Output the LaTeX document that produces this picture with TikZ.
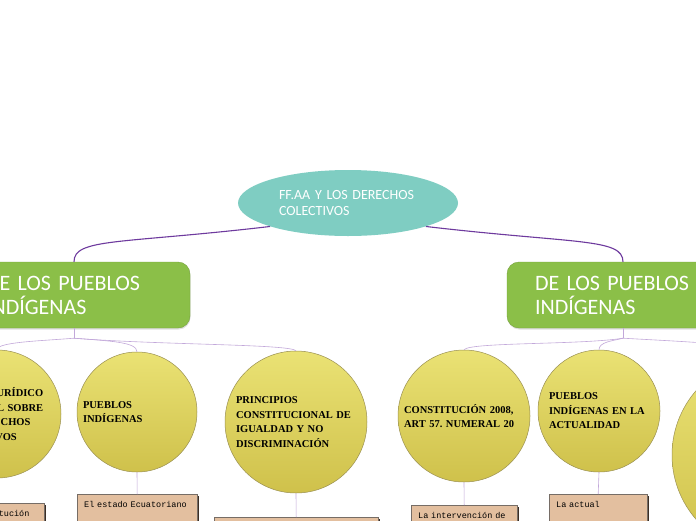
\documentclass[tikz,border=0pt]{standalone}
\usepackage{fontspec}
\setmainfont{Liberation Serif}
\setsansfont{Carlito}[WordSpace=0.7]
\setmonofont{Liberation Mono}
\usetikzlibrary{shapes.geometric,positioning,shadows}
\definecolor{rootteal}{HTML}{7FCDC2}
\definecolor{topicgreen}{HTML}{8BBF48}
\definecolor{bubtop}{HTML}{EAE274}
\definecolor{bubbot}{HTML}{CFC14B}
\definecolor{bubline}{HTML}{9A9052}
\definecolor{notetan}{HTML}{E3BF9F}
\definecolor{noteshade}{HTML}{3B2E25}
\definecolor{mainline}{HTML}{6E3A9E}
\definecolor{subline}{HTML}{C2A8DA}
\frenchspacing
\tikzset{
  rootnode/.style={ellipse, fill=rootteal, text=white, minimum width=220pt,
    minimum height=66pt, text width=138pt, align=left,
    font=\sffamily\fontsize{14}{16}\selectfont},
  topicbox/.style={rectangle, rounded corners=12pt, fill=topicgreen,
    draw=topicgreen!85!black, line width=0.4pt, minimum width=232pt,
    minimum height=66pt, text width=176pt, align=left, text=white,
    font=\sffamily\fontsize{22}{24}\selectfont,
    drop shadow={shadow xshift=0.5pt, shadow yshift=-1.5pt, opacity=0.25}},
  bubble/.style={circle, draw=bubline, line width=0.5pt, inner sep=1pt,
    top color=bubtop, bottom color=bubbot, align=left,
    font=\bfseries\fontsize{10.5}{14.5}\selectfont},
  notebox/.style={rectangle, anchor=north west, fill=notetan,
    draw=noteshade!70, line width=0.4pt, inner xsep=7pt, inner ysep=7pt,
    text depth=30pt, align=left, font=\ttfamily\fontsize{8.5}{13}\selectfont,
    drop shadow={shadow xshift=1.5pt, shadow yshift=-1.5pt, fill=noteshade, opacity=1}},
  mainlink/.style={draw=mainline, line width=1.1pt},
  sublink/.style={draw=subline, line width=0.6pt},
}
\begin{document}
\begin{tikzpicture}[x=1pt, y=-1pt]
  \useasboundingbox (0,0) rectangle (696,520);
  \fill[white] (0,0) rectangle (696,520);
  \clip (0,0) rectangle (696,520);
  % centre and the two topics
  \node (root) [rootnode] at (348,203) {FF.AA Y LOS DERECHOS\\COLECTIVOS};
  \node (lt) [topicbox] at (74,295) {DE LOS PUEBLOS\\INDÍGENAS};
  \node (rt) [topicbox] at (623,295) {DE LOS PUEBLOS\\INDÍGENAS};
  \coordinate [below=10pt of lt.south] (lj);
  \coordinate [below=10pt of rt.south] (rj);
  % bubbles
  \node (ca) [bubble, minimum size=128pt, text width=100pt] at (-3,414)
    {MARCO JURÍDICO\\NACIONAL SOBRE\\LOS DERECHOS\\COLECTIVOS};
  \node (cb) [bubble, minimum size=120pt, text width=108pt] at (137,412)
    {PUEBLOS\\INDÍGENAS};
  \node (cc) [bubble, minimum size=142pt, text width=120pt] at (296,422)
    {PRINCIPIOS\\CONSTITUCIONAL DE\\IGUALDAD Y NO\\DISCRIMINACIÓN};
  \node (cd) [bubble, minimum size=132pt, text width=120pt] at (464,416)
    {CONSTITUCIÓN 2008,\\ART 57. NUMERAL 20};
  \node (ce) [bubble, minimum size=122pt, text width=100pt] at (599,411)
    {PUEBLOS\\INDÍGENAS EN LA\\ACTUALIDAD};
  \node (cf) [bubble, minimum size=196pt] at (770,455) {};
  % notes
  \node (na) [notebox, text width=82pt] at (-52,503) {La Constitución};
  \node (nb) [notebox, text width=106pt] at (77,494) {El estado Ecuatoriano};
  \node (nc) [notebox, text width=150pt] at (214,517) {};
  \node (nd) [notebox, text width=92pt] at (411,505) {La intervención de};
  \node (ne) [notebox, text width=84pt] at (549,494) {La actual};
  % links
  \draw[mainlink] (root.south west) .. controls (120,244) and (74,238) .. (lt.north);
  \draw[mainlink] (root.south east) .. controls (576,244) and (623,238) .. (rt.north);
  \draw[sublink] (lt.south) -- (lj);
  \draw[sublink] (lj) .. controls (40,341) and (-3,342) .. (ca.north);
  \draw[sublink] (lj) .. controls (110,341) and (137,342) .. (cb.north);
  \draw[sublink] (lj) .. controls (160,345) and (290,344) .. (cc.north);
  \draw[sublink] (rt.south) -- (rj);
  \draw[sublink] (rj) .. controls (580,345) and (470,342) .. (cd.north);
  \draw[sublink] (rj) .. controls (612,341) and (599,342) .. (ce.north);
  \draw[sublink] (rj) .. controls (690,342) and (770,345) .. (cf.north);
  \draw[sublink] (cb.south) -- (nb.north);
  \draw[sublink] (cc.south) -- (nc.north);
  \draw[sublink] (cd.south) -- (nd.north);
  \draw[sublink] (ce.south) -- (ne.north);
\end{tikzpicture}
\end{document}
